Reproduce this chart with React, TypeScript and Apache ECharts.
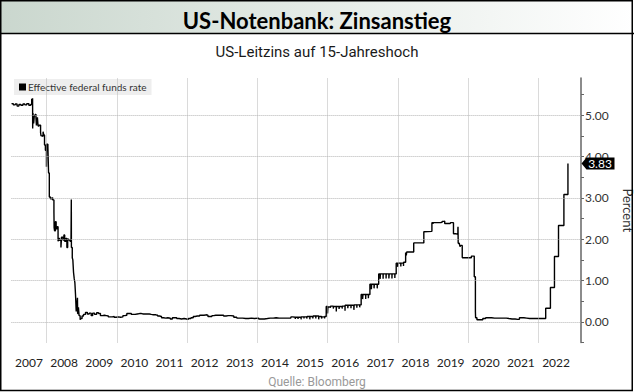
import React, { useEffect, useRef } from "react";
import * as echarts from "echarts";

// Effective federal funds rate, [date, percent]
const rates2007to2008: [string, number][] = [
  ["2007-01-02", 5.28], ["2007-01-20", 5.25], ["2007-02-10", 5.27], ["2007-03-01", 5.22],
  ["2007-03-20", 5.26], ["2007-04-10", 5.24], ["2007-05-01", 5.27], ["2007-05-20", 5.25],
  ["2007-06-10", 5.28], ["2007-07-01", 5.24], ["2007-07-20", 5.26], ["2007-07-31", 5.40],
  ["2007-08-02", 5.26], ["2007-08-09", 5.41], ["2007-08-10", 4.68], ["2007-08-13", 5.05],
  ["2007-08-20", 4.80], ["2007-08-27", 4.99], ["2007-09-05", 5.02], ["2007-09-13", 4.94],
  ["2007-09-18", 4.75], ["2007-09-19", 4.83], ["2007-09-28", 4.95], ["2007-10-05", 4.74],
  ["2007-10-15", 4.76], ["2007-10-31", 4.58], ["2007-11-05", 4.50], ["2007-11-15", 4.49],
  ["2007-11-26", 4.60], ["2007-12-03", 4.52], ["2007-12-11", 4.28], ["2007-12-20", 4.15],
  ["2007-12-31", 3.75], ["2008-01-02", 4.30], ["2008-01-15", 4.24], ["2008-01-22", 3.60],
  ["2008-01-30", 3.02], ["2008-02-10", 2.98], ["2008-02-25", 3.00], ["2008-03-05", 2.95],
  ["2008-03-18", 2.65], ["2008-03-20", 2.28], ["2008-03-25", 2.20], ["2008-04-02", 2.42],
  ["2008-04-10", 2.25], ["2008-04-22", 2.30], ["2008-04-30", 1.95], ["2008-05-07", 2.02],
  ["2008-05-15", 1.97], ["2008-05-30", 1.80], ["2008-06-05", 2.05], ["2008-06-20", 1.98],
  ["2008-06-30", 2.10], ["2008-07-08", 1.95], ["2008-07-21", 2.02], ["2008-07-31", 1.80],
  ["2008-08-08", 2.00], ["2008-08-20", 1.98], ["2008-09-02", 1.95], ["2008-09-12", 1.99],
  ["2008-09-15", 2.96], ["2008-09-16", 1.80], ["2008-09-25", 1.55], ["2008-10-01", 1.50],
  ["2008-10-08", 1.20], ["2008-10-15", 1.05], ["2008-10-22", 0.95], ["2008-10-29", 0.65],
  ["2008-11-05", 0.25], ["2008-11-12", 0.40], ["2008-11-18", 0.58], ["2008-11-20", 0.20],
  ["2008-11-28", 0.35], ["2008-12-05", 0.15], ["2008-12-16", 0.05],
];

const rates2009to2014: [string, number][] = [
  ["2008-12-22", 0.08], ["2009-01-05", 0.14], ["2009-01-20", 0.18], ["2009-02-10", 0.23],
  ["2009-03-01", 0.19], ["2009-03-20", 0.21], ["2009-04-10", 0.15], ["2009-04-25", 0.21],
  ["2009-05-15", 0.18], ["2009-06-05", 0.22], ["2009-06-25", 0.20], ["2009-07-15", 0.15],
  ["2009-08-05", 0.16], ["2009-08-25", 0.15], ["2009-09-15", 0.14], ["2009-10-05", 0.12],
  ["2009-10-25", 0.12], ["2009-11-15", 0.13], ["2009-12-05", 0.11], ["2009-12-25", 0.12],
  ["2010-01-15", 0.11], ["2010-02-10", 0.12], ["2010-03-05", 0.15], ["2010-03-25", 0.16],
  ["2010-04-15", 0.20], ["2010-05-10", 0.20], ["2010-06-01", 0.18], ["2010-06-20", 0.18],
  ["2010-07-10", 0.19], ["2010-08-01", 0.20], ["2010-08-25", 0.20], ["2010-09-15", 0.19],
  ["2010-10-05", 0.19], ["2010-10-25", 0.19], ["2010-11-15", 0.19], ["2010-12-05", 0.18],
  ["2010-12-25", 0.17], ["2011-01-15", 0.17], ["2011-02-10", 0.16], ["2011-03-01", 0.14],
  ["2011-03-20", 0.13], ["2011-04-10", 0.10], ["2011-05-01", 0.09], ["2011-05-25", 0.10],
  ["2011-06-15", 0.09], ["2011-07-10", 0.07], ["2011-08-01", 0.10], ["2011-08-25", 0.10],
  ["2011-09-15", 0.08], ["2011-10-10", 0.07], ["2011-11-05", 0.08], ["2011-12-01", 0.07],
  ["2011-12-25", 0.06], ["2012-01-15", 0.08], ["2012-02-10", 0.10], ["2012-03-05", 0.13],
  ["2012-03-25", 0.14], ["2012-04-15", 0.14], ["2012-05-10", 0.16], ["2012-06-01", 0.16],
  ["2012-06-25", 0.17], ["2012-07-15", 0.16], ["2012-08-05", 0.13], ["2012-08-25", 0.13],
  ["2012-09-15", 0.15], ["2012-10-05", 0.16], ["2012-10-25", 0.16], ["2012-11-15", 0.16],
  ["2012-12-05", 0.16], ["2012-12-25", 0.16], ["2013-01-15", 0.14], ["2013-02-10", 0.15],
  ["2013-03-05", 0.15], ["2013-04-01", 0.14], ["2013-05-01", 0.11], ["2013-06-01", 0.09],
  ["2013-07-01", 0.09], ["2013-08-01", 0.08], ["2013-09-01", 0.08], ["2013-10-01", 0.09],
  ["2013-11-01", 0.08], ["2013-12-01", 0.09], ["2014-01-15", 0.07], ["2014-02-15", 0.07],
  ["2014-03-15", 0.08], ["2014-04-15", 0.09], ["2014-05-15", 0.09], ["2014-06-15", 0.10],
  ["2014-07-15", 0.09], ["2014-08-15", 0.09], ["2014-09-15", 0.09], ["2014-10-15", 0.09],
  ["2014-11-15", 0.09], ["2014-12-15", 0.12],
];

const rates2015to2018: [string, number][] = [
  ["2015-01-02", 0.11], ["2015-01-30", 0.07], ["2015-02-02", 0.11], ["2015-02-27", 0.07],
  ["2015-03-02", 0.11], ["2015-03-31", 0.06], ["2015-04-01", 0.12], ["2015-04-30", 0.08],
  ["2015-05-01", 0.12], ["2015-05-29", 0.08], ["2015-06-01", 0.13], ["2015-06-30", 0.06],
  ["2015-07-01", 0.13], ["2015-07-31", 0.08], ["2015-08-03", 0.14], ["2015-08-31", 0.08],
  ["2015-09-01", 0.14], ["2015-09-30", 0.06], ["2015-10-01", 0.13], ["2015-10-30", 0.08],
  ["2015-11-02", 0.12], ["2015-11-30", 0.08], ["2015-12-01", 0.13], ["2015-12-17", 0.37],
  ["2015-12-31", 0.20], ["2016-01-04", 0.36], ["2016-01-29", 0.34], ["2016-02-01", 0.38],
  ["2016-02-29", 0.32], ["2016-03-01", 0.37], ["2016-03-31", 0.25], ["2016-04-01", 0.37],
  ["2016-04-29", 0.31], ["2016-05-02", 0.37], ["2016-05-31", 0.32], ["2016-06-01", 0.38],
  ["2016-06-30", 0.27], ["2016-07-01", 0.40], ["2016-07-29", 0.33], ["2016-08-01", 0.40],
  ["2016-08-31", 0.33], ["2016-09-01", 0.40], ["2016-09-30", 0.29], ["2016-10-03", 0.41],
  ["2016-10-31", 0.34], ["2016-11-01", 0.41], ["2016-11-30", 0.35], ["2016-12-01", 0.41],
  ["2016-12-15", 0.66], ["2016-12-30", 0.55], ["2017-01-03", 0.66], ["2017-01-31", 0.55],
  ["2017-02-01", 0.66], ["2017-02-28", 0.57], ["2017-03-01", 0.66], ["2017-03-16", 0.91],
  ["2017-03-31", 0.79], ["2017-04-03", 0.91], ["2017-04-28", 0.81], ["2017-05-01", 0.91],
  ["2017-05-31", 0.81], ["2017-06-01", 0.91], ["2017-06-15", 1.16], ["2017-06-30", 1.04],
  ["2017-07-03", 1.16], ["2017-07-31", 1.04], ["2017-08-01", 1.16], ["2017-08-31", 1.05],
  ["2017-09-01", 1.16], ["2017-09-29", 1.05], ["2017-10-02", 1.16], ["2017-10-31", 1.05],
  ["2017-11-01", 1.16], ["2017-11-30", 1.06], ["2017-12-01", 1.16], ["2017-12-14", 1.42],
  ["2017-12-29", 1.33], ["2018-01-02", 1.42], ["2018-01-31", 1.34], ["2018-02-01", 1.42],
  ["2018-02-28", 1.35], ["2018-03-01", 1.44], ["2018-03-22", 1.68], ["2018-03-29", 1.61],
  ["2018-04-02", 1.69], ["2018-06-14", 1.91], ["2018-07-02", 1.91], ["2018-09-27", 2.18],
  ["2018-10-01", 2.19], ["2018-12-20", 2.40], ["2018-12-31", 2.37],
];

const rates2019to2022: [string, number][] = [
  ["2019-01-02", 2.40], ["2019-02-15", 2.40], ["2019-03-20", 2.41], ["2019-04-05", 2.43],
  ["2019-04-25", 2.44], ["2019-05-02", 2.38], ["2019-06-03", 2.38], ["2019-06-28", 2.37],
  ["2019-07-01", 2.40], ["2019-08-01", 2.13], ["2019-08-30", 2.12], ["2019-09-16", 2.25],
  ["2019-09-17", 2.30], ["2019-09-19", 1.90], ["2019-10-01", 1.88], ["2019-10-08", 1.82],
  ["2019-10-15", 1.85], ["2019-10-31", 1.58], ["2019-11-01", 1.55], ["2019-12-31", 1.55],
  ["2020-01-02", 1.55], ["2020-02-03", 1.59], ["2020-03-04", 1.09], ["2020-03-16", 0.25],
  ["2020-03-18", 0.10], ["2020-04-01", 0.05], ["2020-05-01", 0.05], ["2020-06-01", 0.08],
  ["2020-07-01", 0.10], ["2020-08-03", 0.10], ["2020-09-01", 0.09], ["2020-10-01", 0.09],
  ["2020-11-02", 0.09], ["2020-12-01", 0.09], ["2021-01-04", 0.09], ["2021-02-01", 0.08],
  ["2021-03-01", 0.07], ["2021-04-01", 0.07], ["2021-05-03", 0.06], ["2021-06-01", 0.06],
  ["2021-06-17", 0.10], ["2021-07-01", 0.10], ["2021-08-02", 0.09], ["2021-09-01", 0.08],
  ["2021-10-01", 0.08], ["2021-11-01", 0.08], ["2021-12-01", 0.08], ["2022-01-03", 0.08],
  ["2022-02-01", 0.08], ["2022-03-17", 0.33], ["2022-05-05", 0.83], ["2022-06-16", 1.58],
  ["2022-07-28", 2.33], ["2022-09-22", 3.08], ["2022-11-03", 3.83], ["2022-11-04", 3.83],
];

const yearLabelPositions = [
  2007.5, 2008.5, 2009.5, 2010.5, 2011.5, 2012.5, 2013.5, 2014.5,
  2015.5, 2016.5, 2017.5, 2018.5, 2019.5, 2020.5, 2021.5, 2022.5,
];
const verticalGridYears = [2008, 2010, 2012, 2014, 2016, 2018, 2020, 2022];
const yTickLabels = [0, 1, 2, 3, 4, 5];
const yTickMarks = [-0.5, 0, 0.5, 1, 1.5, 2, 2.5, 3, 3.5, 4, 4.5, 5, 5.5];
const lastValue = 3.83;

const X_MIN = 2007.0;
const X_MAX = 2023.21;

function toYear(s: string): number {
  const d = new Date(s + "T00:00:00Z");
  const y = d.getUTCFullYear();
  const a = Date.UTC(y, 0, 1);
  const b = Date.UTC(y + 1, 0, 1);
  return y + (d.getTime() - a) / (b - a);
}

export default function App() {
  const ref = useRef<HTMLDivElement>(null);
  useEffect(() => {
    document.body.style.margin = "0";
    if (!ref.current) return;
    const chart = echarts.init(ref.current, undefined, { renderer: "svg" });
    const all = [...rates2007to2008, ...rates2009to2014, ...rates2015to2018, ...rates2019to2022];
    const data = all.map(([d, v]) => [toYear(d), v]);
    const axisFont = "Lato, 'Open Sans', sans-serif";
    const narrowFont = "'Liberation Sans Narrow', 'Arial Narrow', Roboto, sans-serif";
    const gridStyle = { color: "#b5b5b5", type: [1, 1], width: 1 };

    chart.setOption({
      animation: false,
      backgroundColor: "#ffffff",
      graphic: [
        {
          type: "rect",
          z: 0,
          silent: true,
          shape: { x: 0, y: 0, width: 634, height: 34 },
          style: {
            fill: new echarts.graphic.LinearGradient(0, 0, 1, 0, [
              { offset: 0, color: "#cad7ce" },
              { offset: 1, color: "#ffffff" },
            ]),
          },
        },
        {
          type: "line",
          z: 1,
          silent: true,
          shape: { x1: 0, y1: 33.5, x2: 634, y2: 33.5 },
          style: { stroke: "#000", lineWidth: 1.5 },
        },
        {
          type: "rect",
          z: 1,
          silent: true,
          shape: { x: 0.75, y: 0.75, width: 631.5, height: 389.75 },
          style: { fill: "none", stroke: "#000", lineWidth: 1.5 },
        },
      ],
      title: [
        {
          text: "US-Notenbank: Zinsanstieg",
          left: "center",
          top: 4,
          textStyle: { fontFamily: axisFont, fontWeight: "bold", fontSize: 22, color: "#000" },
        },
        {
          text: "US-Leitzins auf 15-Jahreshoch",
          left: "center",
          top: 39,
          textStyle: { fontFamily: narrowFont, fontWeight: "normal", fontSize: 15, color: "#1a1a1a" },
        },
        {
          text: "Quelle: Bloomberg",
          left: "center",
          top: 371,
          textStyle: { fontFamily: narrowFont, fontWeight: "normal", fontSize: 12, color: "#999999" },
        },
      ],
      legend: {
        data: ["Effective federal funds rate"],
        left: 14,
        top: 79,
        icon: "rect",
        itemWidth: 7,
        itemHeight: 7,
        padding: [3, 5, 3, 5],
        backgroundColor: "#eeeeee",
        textStyle: { fontFamily: axisFont, fontSize: 10, color: "#333", padding: [0, 0, 0, -3] },
      },
      grid: {
        left: 11.4,
        right: 53,
        top: 78,
        bottom: 49.5,
        containLabel: false,
        outerBoundsMode: "none",
      },
      xAxis: {
        type: "value",
        min: X_MIN,
        max: X_MAX,
        axisLine: { show: false },
        axisTick: { show: false },
        splitLine: { show: false },
        axisLabel: {
          customValues: yearLabelPositions,
          formatter: (v: number) => String(Math.floor(v)),
          fontFamily: axisFont,
          fontSize: 12,
          color: "#222",
          margin: 14,
        },
      },
      yAxis: {
        type: "value",
        position: "right",
        min: -0.5,
        max: 5.9,
        name: "Percent",
        nameLocation: "middle",
        nameRotate: -90,
        nameGap: 40,
        nameTextStyle: { fontFamily: axisFont, fontSize: 13, color: "#333" },
        axisLine: { show: true, lineStyle: { color: "#666", width: 1.5 } },
        axisTick: { show: true, customValues: yTickMarks, length: 3, lineStyle: { color: "#666" } },
        splitLine: { show: false },
        axisLabel: {
          customValues: yTickLabels,
          formatter: (v: number) => v.toFixed(2),
          fontFamily: axisFont,
          fontSize: 12,
          color: "#333",
          margin: 4,
        },
      },
      series: [
        {
          name: "gridlines",
          type: "line",
          data: [[X_MIN, null]],
          z: 1,
          silent: true,
          symbol: "none",
          markLine: {
            silent: true,
            symbol: "none",
            precision: 4,
            label: { show: false },
            lineStyle: gridStyle,
            data: [
              ...verticalGridYears.map((x) => ({ xAxis: x })),
              ...yTickLabels.map((y) => ({ yAxis: y })),
            ],
          },
        },
        {
          name: "Effective federal funds rate",
          type: "line",
          step: "end",
          data,
          z: 3,
          showSymbol: false,
          symbol: "none",
          color: "#000",
          lineStyle: { color: "#000", width: 1.4 },
          markPoint: {
            silent: true,
            symbol: "path://M0,6 L5,0 L33,0 L33,12 L5,12 Z",
            symbolSize: [33, 12],
            symbolKeepAspect: false,
            symbolOffset: [17, 0],
            itemStyle: { color: "#000" },
            label: {
              show: true,
              position: "inside",
              offset: [2, 0],
              formatter: () => lastValue.toFixed(2),
              color: "#fff",
              fontFamily: axisFont,
              fontSize: 12,
            },
            data: [{ coord: [X_MAX, lastValue], value: lastValue }],
          },
        },
      ],
    });
    return () => chart.dispose();
  }, []);
  return (
    <div
      ref={ref}
      style={{ position: "fixed", left: 0, top: 0, width: 634, height: 392 }}
    />
  );
}
